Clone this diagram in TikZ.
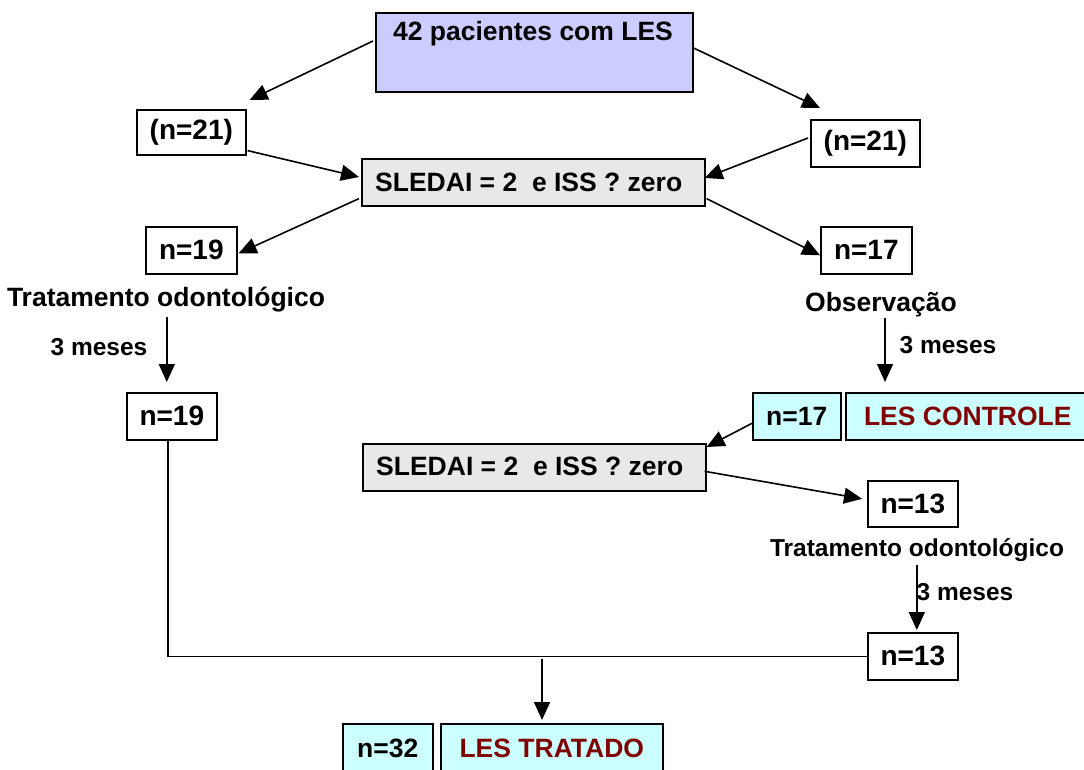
\documentclass[tikz,border=0pt]{standalone}
\usepackage{fontspec}
\setmainfont{Liberation Sans}
\usetikzlibrary{arrows.meta,calc}
\definecolor{lav}{HTML}{CCCCFF}
\definecolor{lgray}{HTML}{E8E8E8}
\definecolor{lcyan}{HTML}{CCFFFF}
\definecolor{dred}{HTML}{800000}
\begin{document}
\begin{tikzpicture}[x=1pt,y=-1pt,
  box/.style={draw=black, line width=1.6pt, rectangle, inner sep=0pt, anchor=north west, font=\fontsize{28}{32}\selectfont\bfseries},
  cbox/.style={box, fill=lcyan, font=\fontsize{26.5}{30}\selectfont\bfseries},
  txt/.style={inner sep=0pt, font=\fontsize{26.5}{30}\selectfont\bfseries},
  stxt/.style={inner sep=0pt, font=\fontsize{24.5}{28}\selectfont\bfseries},
  ln/.style={line width=1.6pt},
  arr/.style={line width=1.6pt, -{Triangle[length=18pt,width=16pt]}},
]
\useasboundingbox (0,0) rectangle (1084,769);

% boxes
\node[box, fill=lav, minimum width=317, minimum height=79] (top) at (375,12) {};
\node[txt] (toptxt) at (533,34) {42 pacientes com LES};
\node[box, minimum width=109, minimum height=45] (nL) at (136,109) {(n=21)};
\node[box, minimum width=109, minimum height=47] (nR) at (810,119) {(n=21)};
\node[box, fill=lgray, minimum width=343, minimum height=47] (s1) at (361,158) {};
\node[txt, anchor=west] (s1t) at (375,182) {SLEDAI = 2\ \ e ISS ? zero};
\node[box, minimum width=91, minimum height=47] (n19a) at (145,226) {n=19};
\node[box, minimum width=91, minimum height=47] (n17a) at (820,226) {n=17};
\node[txt] (trL) at (166,300) {Tratamento odontológico};
\node[txt] (obs) at (881,305) {Observação};
\node[stxt] (m1) at (99,347) {3 meses};
\node[stxt] (m2) at (948,345) {3 meses};
\node[box, minimum width=90, minimum height=47] (n19b) at (126,392) {n=19};
\node[cbox, minimum width=88, minimum height=47] (n17b) at (752,392) {n=17};
\node[cbox, minimum width=244, minimum height=47, text=dred] (ctrl) at (845,392) {LES CONTROLE};
\node[box, fill=lgray, minimum width=343, minimum height=47] (s2) at (362,443) {};
\node[txt, anchor=west] (s2t) at (376,466) {SLEDAI = 2\ \ e ISS ? zero};
\node[box, minimum width=90, minimum height=46] (n13a) at (867,480) {n=13};
\node[stxt] (trR) at (917,550) {Tratamento odontológico};
\node[stxt] (m3) at (965,592) {3 meses};
\node[box, minimum width=90, minimum height=47] (n13b) at (867,632) {n=13};
\node[cbox, minimum width=90, minimum height=50] (n32) at (342,723) {n=32};
\node[cbox, minimum width=222, minimum height=50, text=dred] (trat) at (440,723) {LES TRATADO};

% connectors
\draw[arr] ($(top.north west)+(-2,29)$) -- ($(nL.north east)+(3,-9)$);
\draw[arr] ($(top.north east)+(0,36)$) -- ($(nR.north west)+(10,-11)$);
\draw[arr] ($(nL.south east)+(1,-5)$) -- ($(s1.north west)+(-2,19)$);
\draw[arr] ($(nR.north west)+(-2,19)$) -- ($(s1.north east)+(-1,20)$);
\draw[arr] ($(s1.south west)+(-2,-8)$) -- ($(n19a.east)+(1,3)$);
\draw[arr] ($(s1.south east)+(1,-8)$) -- ($(n17a.west)+(0,5)$);
\draw[arr] ($(n19b.north)+(-5,-75)$) -- ($(n19b.north)+(-5,-10)$);
\draw[arr] ($(ctrl.north west)+(40,-74)$) -- ($(ctrl.north west)+(40,-10)$);
\draw[arr] ($(n17b.west)+(0,7)$) -- ($(s2.north east)+(0,4)$);
\draw[arr] ($(s2.east)+(-2,4)$) -- ($(n13a.west)+(-5,-5)$);
\draw[arr] ($(n13b.north)+(4,-67)$) -- ($(n13b.north)+(4,-2)$);
\draw[ln] ($(n19b.south)+(-4,0)$) |- (n13b.west);
\draw[arr] ($(trat.north west)+(102,-64)$) -- ($(trat.north west)+(102,-3)$);
\end{tikzpicture}
\end{document}
